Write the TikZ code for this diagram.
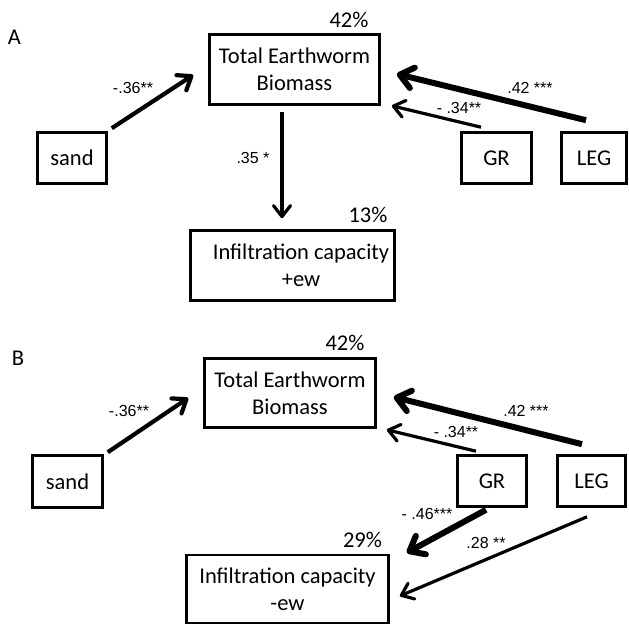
\documentclass[tikz,border=0pt]{standalone}
\usepackage{fontspec}
\setmainfont{Carlito}
\newfontfamily\labfont{Liberation Sans}
\usetikzlibrary{arrows.meta,calc}
\begin{document}
\begin{tikzpicture}[x=1pt,y=-1pt,
 box/.style={draw, line width=2.6pt, rectangle, inner sep=0pt, align=center, font=\fontsize{22.5}{27}\selectfont},
 pct/.style={font=\fontsize{22.5}{26}\selectfont, inner sep=0pt},
 coef/.style={font=\labfont\fontsize{16}{18}\selectfont, inner sep=0pt},
 thinarr/.style={line width=3.2pt, -{Straight Barb[length=11pt,width=17pt,round]}},
 midarr/.style={line width=4.2pt, -{Straight Barb[length=12pt,width=18pt,round]}},
 heavyarr/.style={line width=6pt, -{Straight Barb[length=13pt,width=21pt,round]}},
]
\useasboundingbox (0,0) rectangle (629,626);

% ---------- Panel A ----------
\node[pct] (labA) at (14.5,37) {A};
\node[box, minimum width=170pt, minimum height=70pt] (tebA) at (294.5,69.5) {Total Earthworm\\Biomass};
\node[box, minimum width=69pt, minimum height=51pt] (sandA) at (72,158) {sand};
\node[box, minimum width=70pt, minimum height=51pt] (grA) at (496.5,158) {GR};
\node[box, minimum width=65pt, minimum height=51pt] (legA) at (594,158) {LEG};
\node[box, minimum width=204pt, minimum height=70pt] (infA) at (292.5,265.5) {\hspace*{17pt}Infiltration capacity\\\hspace*{17pt}+ew};

\node[pct] (pA1) at (349,20) {42\%};
\node[pct] (pA2) at (368,215) {13\%};

\draw[midarr] ($(sandA.north east)+(4,-3)$) -- ($(tebA.west)+(-15,5.5)$);
\draw[heavyarr] ($(legA.north)+(-8,-11)$) -- ($(tebA.east)+(16,4.5)$);
\draw[thinarr] ($(grA.north)+(-15.5,-4)$) -- ($(tebA.south east)+(11,0)$);
\draw[thinarr] ($(tebA.south)+(-12.5,6)$) -- ($(infA.north)+(-10.5,-11)$);

\node[coef] (cA1) at (133,88) {-.36**};
\node[coef] (cA2) at (253,158) {.35 *};
\node[coef] (cA3) at (530,88) {.42 ***};
\node[coef] (cA4) at (459,108) {- .34**};

% ---------- Panel B ----------
\node[pct] (labB) at (18,358) {B};
\node[box, minimum width=171pt, minimum height=69pt] (tebB) at (290,393) {Total Earthworm\\Biomass};
\node[box, minimum width=70pt, minimum height=52pt] (sandB) at (67.5,481.5) {sand};
\node[box, minimum width=69pt, minimum height=51pt] (grB) at (492,481) {GR};
\node[box, minimum width=68pt, minimum height=51pt] (legB) at (591.5,481) {LEG};
\node[box, minimum width=202pt, minimum height=68pt] (infB) at (287.5,589) {Infiltration capacity\\-ew};

\node[pct] (pB1) at (345,343) {42\%};
\node[pct] (pB2) at (362.5,540) {29\%};

\draw[midarr] ($(sandB.north east)+(4,-2)$) -- ($(tebB.west)+(-15,5)$);
\draw[heavyarr] ($(legB.north)+(-9.5,-10)$) -- ($(tebB.east)+(17,4)$);
\draw[thinarr] ($(grB.north)+(-16,-3)$) -- ($(tebB.south east)+(10,1)$);
\draw[heavyarr] ($(grB.south)+(-6,2)$) -- ($(infB.north east)+(17,-1)$);
\draw[thinarr] ($(legB.south)+(-4.5,9)$) -- ($(infB.east)+(10,7)$);

\node[coef] (cB1) at (129,411) {-.36**};
\node[coef] (cB2) at (526,411) {.42 ***};
\node[coef] (cB3) at (456,432) {- .34**};
\node[coef] (cB4) at (427,514) {- .46***};
\node[coef] (cB5) at (486,543) {.28 **};
\end{tikzpicture}
\end{document}
